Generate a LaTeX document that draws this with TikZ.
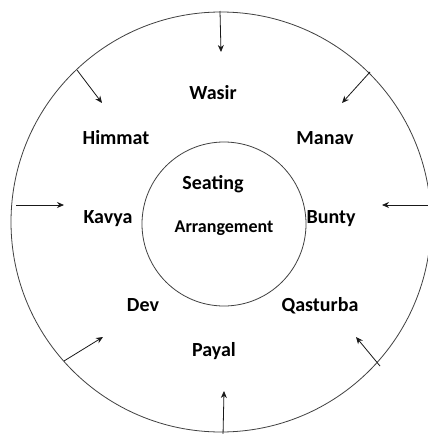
\documentclass[tikz,border=0pt]{standalone}
\usepackage{fontspec}
\setmainfont{Carlito}
\usetikzlibrary{arrows.meta}
\begin{document}
\begin{tikzpicture}[x=1pt,y=-1pt,
  ring/.style={draw=black!75,line width=0.8pt},
  arr/.style={draw=black!90,line width=0.8pt,-{Stealth[length=7pt,width=6pt]}},
  lbl/.style={anchor=base,inner sep=0pt,font=\fontsize{20}{22}\selectfont\bfseries,text=black},
  lblc/.style={anchor=base,inner sep=0pt,font=\fontsize{18}{20}\selectfont\bfseries,text=black}]
\useasboundingbox (0,0) rectangle (428,434);
\clip (0,0) rectangle (428,434);
\fill[white] (0,0) rectangle (428,434);
% circles
\node[ring,circle,minimum size=420pt,inner sep=0pt] (outer) at (221,222) {};
\node[ring,circle,minimum size=164pt,inner sep=0pt] (inner) at (224,224) {};
% labels
\node[lbl] (wasir) at (213,99) {Wasir};
\node[lbl] (himmat) at (116,144) {Himmat};
\node[lbl] (manav) at (325,144) {Manav};
\node[lbl] (seating) at (213,189) {Seating};
\node[lbl] (kavya) at (108,223) {Kavya};
\node[lbl] (bunty) at (331,223) {Bunty};
\node[lblc] (arr) at (224,232) {Arrangement};
\node[lbl] (dev) at (143,311) {Dev};
\node[lbl] (qasturba) at (320,311) {Qasturba};
\node[lbl] (payal) at (214,356) {Payal};
% arrow ends
\coordinate (s1) at (220,11);  \coordinate (t1) at (221,52);
\coordinate (s2) at (77,70);   \coordinate (t2) at (102,103);
\coordinate (s3) at (370,72);  \coordinate (t3) at (342,103);
\coordinate (s4) at (16,205);  \coordinate (t4) at (64,205);
\coordinate (s5) at (432,205); \coordinate (t5) at (382,205);
\coordinate (s6) at (64,361);  \coordinate (t6) at (103,337);
\coordinate (s7) at (380,366); \coordinate (t7) at (356,337);
\coordinate (s8) at (223,436); \coordinate (t8) at (224,391);
\foreach \i in {1,...,8} {\draw[arr] (s\i) -- (t\i);}
\end{tikzpicture}
\end{document}
